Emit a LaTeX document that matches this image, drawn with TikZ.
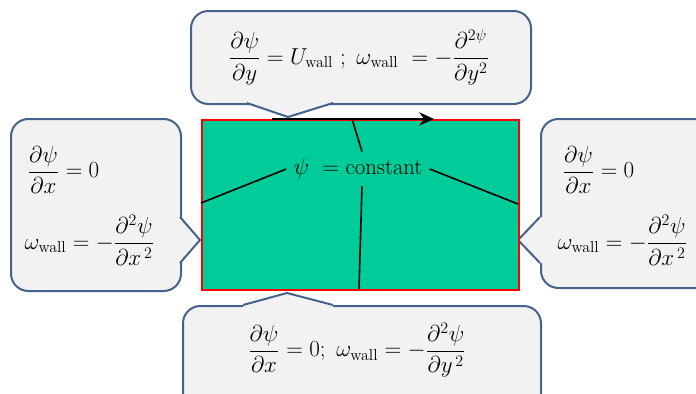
\documentclass[tikz,border=0pt]{standalone}
\usepackage{amsmath}
\usepackage{amssymb}
\usepackage{xcolor}
\usetikzlibrary{arrows.meta, positioning}

\definecolor{calloutfill}{RGB}{242,242,242}
\definecolor{calloutdraw}{RGB}{68,98,140}
\definecolor{domaingreen}{RGB}{0,204,153}

\begin{document}
\begin{tikzpicture}[>=Stealth, x=0.75pt, y=-0.75pt, thick]

% --- Style Definitions ---
% Callout boxes (grey with blue border)
\tikzstyle{callout_box}=[draw=calloutdraw, line width=1.5pt, fill=calloutfill, rounded corners=13pt, inner sep=0pt, anchor=north west]
\tikzstyle{callout_tip}=[draw=calloutdraw, line width=1.5pt, line join=round]
% Equations
\tikzstyle{eq_node}=[inner sep=0pt, font=\fontsize{17}{22}\selectfont]
% Cavity (green with red border)
\tikzstyle{domain_box}=[draw=red, line width=1.8pt, fill=domaingreen, inner sep=0pt]
% Lines and arrows
\tikzstyle{psi_line}=[black, line width=1.2pt]
\tikzstyle{wall_arrow}=[-{Stealth[length=11pt, width=10pt]}, line width=2.2pt, black]

\useasboundingbox (0,0) rectangle (696,393);
\clip (0,0) rectangle (696,393);

% --- Callouts ---
\node[callout_box, minimum width=255pt, minimum height=69.75pt] (top_box) at (190,10) {};
\node[callout_box, minimum width=127.5pt, minimum height=129pt] (left_box) at (10,118) {};
\node[callout_box, minimum width=142.5pt, minimum height=126.75pt] (right_box) at (540,118) {};
\node[callout_box, minimum width=268.5pt, minimum height=86.25pt] (bottom_box) at (182,305) {};

% pointers
\fill[calloutfill] (247,99) -- (247,103) -- (288,117) -- (333,103) -- (333,99) -- cycle;
\draw[callout_tip] (247,103) -- (288,117) -- (333,103);
\fill[calloutfill] (176,217) -- (180,217) -- (200,240) -- (180,263) -- (176,263) -- cycle;
\draw[callout_tip] (180,217) -- (200,240) -- (180,263);
\fill[calloutfill] (544,217) -- (540,217) -- (518,240) -- (540,263) -- (544,263) -- cycle;
\draw[callout_tip] (540,217) -- (518,240) -- (540,263);
\fill[calloutfill] (243,309) -- (243,305) -- (287,293) -- (333,305) -- (333,309) -- cycle;
\draw[callout_tip] (243,305) -- (287,293) -- (333,305);

% --- Cavity ---
\node[domain_box, anchor=north west, minimum width=237.75pt, minimum height=127.5pt] (cavity) at (201,119) {};

% moving lid
\coordinate (lid_start) at (272,119);
\coordinate (lid_end) at (434,119);
\draw[wall_arrow] (lid_start) -- (lid_end);

% --- Stream function label ---
\node[eq_node, inner sep=5pt] (psi_label) at (358,169) {$\psi\ =$ constant};

\coordinate (top_end) at (352,119);
\coordinate (left_end) at (201,203);
\coordinate (right_end) at (518,204);
\coordinate (bottom_end) at (359,289);

\draw[psi_line] ([xshift=3pt]psi_label.north) -- (top_end);
\draw[psi_line] (psi_label.west) -- (left_end);
\draw[psi_line] (psi_label.east) -- (right_end);
\draw[psi_line] ([xshift=3pt]psi_label.south) -- (bottom_end);

% --- Boundary conditions ---
\node[eq_node] (top_eq) at (359,57) {$\dfrac{\partial\psi}{\partial y} = U_{\text{wall}}\ ;\ \omega_{\text{wall}}\ = -\dfrac{\partial^{2\psi}}{\partial y^{2}}$};

\node[eq_node, anchor=west] (left_bc) at (27,170) {$\dfrac{\partial\psi}{\partial x} = 0$};
\node[eq_node, anchor=west] (left_wall) at (24,240) {$\omega_{\text{wall}} = -\dfrac{\partial^{2}\psi}{\partial x^{\,2}}$};

\node[eq_node, anchor=west] (right_bc) at (562,170) {$\dfrac{\partial\psi}{\partial x} = 0$};
\node[eq_node, anchor=west] (right_wall) at (557,240) {$\omega_{\text{wall}} = -\dfrac{\partial^{2}\psi}{\partial x^{\,2}}$};

\node[eq_node] (bottom_eq) at (357,350) {$\dfrac{\partial\psi}{\partial x} = 0;\ \omega_{\text{wall}} = -\dfrac{\partial^{2}\psi}{\partial y^{\,2}}$};

\end{tikzpicture}
\end{document}
